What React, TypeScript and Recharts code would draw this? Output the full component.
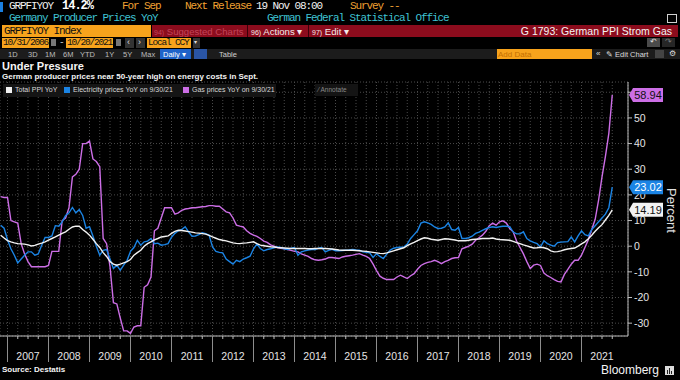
import React from 'react';
import { LineChart, Line, XAxis, YAxis, CartesianGrid, ReferenceLine } from 'recharts';

// Monthly observations, first one = end of October 2006, last = end of September 2021
const START_YEAR = 2006;
const START_MONTH = 10;

const totalPpi = [
  4.3, 3.2, 2.2, 1.7, 1.3, 1.0, 0.9, 0.8, 0.5, 0.1,
  0.3, 0.8, 1.2, 1.7, 2.4, 3.0, 3.6, 4.3, 5.0, 5.6,
  6.6, 7.5, 7.8, 7.8, 6.5, 5.5, 4.3, 2.7, 1.0, -0.5,
  -2.5, -4.0, -6.0, -7.0, -7.4, -7.0, -6.5, -6.0, -5.2, -3.5,
  -2.5, -1.6, 0.0, 1.0, 1.7, 2.5, 3.0, 3.6, 3.8, 4.0,
  5.0, 5.8, 6.2, 6.1, 5.9, 5.7, 5.5, 5.2, 5.1, 4.9,
  4.7, 4.2, 3.6, 3.1, 2.6, 2.3, 2.1, 1.7, 1.3, 1.1,
  1.0, 1.2, 1.3, 1.5, 1.7, 1.0, 0.4, 0.2, 0.0, -0.2,
  -0.3, -0.5, -0.6, -0.7, -0.8, -0.9, -0.9, -0.9, -0.9, -0.9,
  -1.0, -1.0, -0.9, -0.9, -0.9, -0.9, -1.0, -1.1, -1.3, -1.5,
  -1.6, -1.6, -1.6, -1.6, -1.7, -1.8, -1.9, -2.0, -2.2, -2.4,
  -2.6, -2.8, -2.9, -2.6, -2.2, -1.8, -1.4, -1.0, -0.6, 0.2,
  0.9, 1.5, 2.2, 2.8, 3.3, 3.1, 2.7, 2.5, 2.3, 2.6,
  2.9, 2.8, 2.6, 2.4, 2.1, 2.1, 2.1, 2.3, 2.6, 2.7,
  2.8, 3.0, 3.0, 3.0, 3.2, 2.8, 2.6, 2.5, 2.4, 2.3,
  1.9, 1.4, 1.0, 0.5, 0.1, -0.3, -0.7, -0.6, -0.4, -0.6,
  -1.0, -1.8, -2.2, -2.1, -1.8, -1.4, -1.1, -0.9, -0.7, 0.0,
  0.9, 1.7, 2.9, 4.3, 5.8, 7.2, 8.4, 10.2, 12.0, 14.19,
];

const electricity = [
  8.2, 7, 2.5, -1, -3.5, -6.5, -5, -3.5, -2.2, -2.2,
  -3.5, -3, 0.4, 3.4, 3.4, 4, 8, 7.8, 9.5, 12,
  13, 15.1, 13, 14.3, 12, 7, 7.6, 4, 0, -3.5,
  -1.6, -1.3, -5, -8.7, -7.4, -9.4, -7.4, -5.5, -2, -0.5,
  2.3, 0.4, 1.7, 2, 3, 1, 1.2, 0.4, 0.6, 1,
  3.5, 5, 6, 6.5, 7.6, 5.6, 3.9, 4, 4.5, 5.2,
  4.9, 4.3, -0.3, -2, -2.4, -2.6, -5, -6, -7, -5.5,
  -6, -5, -4.5, -3.9, -1, 0.8, -0.9, -1.8, -1.3, -1,
  -0.6, -0.3, -0.5, -1, -1.3, -0.8, -0.5, -3.5, -2.2, -1.8,
  -1.5, -1.3, -1.3, -0.8, -0.5, -2.2, -1.6, -1.2, -1.8, -1.8,
  -1.7, -1.6, -1.5, -1.3, -1.5, -1.6, -2.2, -2.4, -2.6, -4.4,
  -2.9, -4, -4.8, -3.1, -1.5, -0.8, -0.5, -0.4, -0.3, 0.8,
  3, 4.5, 6, 9, 9.5, 9.1, 8.5, 7.5, 6.9, 7,
  7.5, 9.1, 6.5, 6.2, 7.3, 3, 3, 3.3, 3.9, 5,
  5.5, 6.2, 6.8, 7.3, 7.6, 7.3, 7.6, 7.8, 7.8, 7.6,
  5.5, 4.8, 4.8, 5.6, 3, 2.1, 1.5, 1, -0.3, 2.1,
  1, 0.4, 0, 1.4, 1.6, 1.7, 1.8, 3.6, 1.7, 4,
  6, 4.5, 4, 6.5, 8, 9.5, 11, 12.5, 15, 23.02,
];

const gas = [
  19.3, 19, 19, 10, 9.5, 9, 1, -3, -6, -8,
  -8, -8, -8, -8, -7.5, -2, -2, -2, 10, 11,
  15, 27, 28, 30, 40, 40, 41, 34, 33, 31,
  3, 1, -8, -22, -22.5, -28, -33, -33, -34, -31.5,
  -31, -31, -16, -15, -12, 6, 7, 11, 15, 15,
  15, 12.5, 13, 14, 14.5, 14.7, 15, 15, 15.2, 15.4,
  15.5, 15.8, 15.8, 15.6, 15.6, 14.5, 13.4, 13, 11, 8.2,
  7.8, 7.5, 6, 5, 4.3, 3.8, 3, 2, 1.5, 0.5,
  0, -0.5, -0.8, -1, -1.3, -1.6, -2, -2.2, -3, -3.5,
  -4, -4.8, -5.3, -5.5, -5.3, -5, -4.4, -4.4, -4.6, -4.8,
  -4.2, -3.9, -3.7, -3.5, -3.2, -2.9, -3.5, -4, -4.8, -7,
  -9.5, -11.7, -12.5, -13, -13, -13, -12, -11.3, -12, -12.6,
  -11.5, -10.7, -9, -7.5, -6.8, -6.3, -6, -5.5, -6, -6.8,
  -6, -5.5, -4.8, -4.5, -4.4, -1, -0.5, 0, 0.8, 2.3,
  3.3, 4.3, 5.8, 8, 9, 8.2, 9.5, 9.9, 9, 6.9,
  5.6, 2, -0.5, -3, -6, -8.7, -7.4, -7, -7.5, -10.5,
  -11.5, -12.2, -13, -13.7, -13.9, -11, -9, -7, -5.5, -5.5,
  -3.5, -0.5, 2.5, 6.5, 10.5, 18, 27, 35, 44, 58.94,
];

const years = [2007, 2008, 2009, 2010, 2011, 2012, 2013, 2014, 2015, 2016, 2017, 2018, 2019, 2020, 2021];
const yTicks = [-30, -20, -10, 0, 10, 20, 30, 40, 50, 60];
const hiddenTickLabels = [60]; // covered by the last-value tag in the original
const lastTotal = 14.19;
const lastElectricity = 23.02;
const lastGas = 58.94;

const X_DOMAIN: [number, number] = [2006.817, 2022.134];
const Y_DOMAIN: [number, number] = [-35, 64];
const MARGIN = { top: 82, right: 0, bottom: 0, left: 0 };

const C_TOTAL = '#f2f2f2';
const C_ELEC = '#1b84e4';
const C_GAS = '#cc6ee6';
const SANS = '"Liberation Sans", Arial, sans-serif';

const data = totalPpi.map((v, i) => ({
  t: START_YEAR + (START_MONTH + i) / 12,
  total: v,
  elec: electricity[i],
  gas: gas[i],
}));

const quarterTicks: number[] = [];
years.forEach((y) => {
  [0, 0.25, 0.5, 0.75].forEach((q) => quarterTicks.push(y + q));
});

const XTick = (props: any) => {
  const { x, y, payload } = props;
  const v = payload.value as number;
  const frac = v - Math.floor(v);
  const isYear = Math.abs(frac) < 1e-6;
  const isMid = Math.abs(frac - 0.5) < 1e-6;
  return (
    <g>
      <line x1={x} x2={x} y1={y} y2={y + (isYear ? 26 : 3)} stroke={isYear ? '#8d8d8d' : '#bdbdbd'} strokeWidth={1} />
      {isMid && (
        <text x={x} y={y + 24} textAnchor="middle" fill="#e4e4e4" fontSize={10.5} fontFamily={SANS}>
          {Math.floor(v)}
        </text>
      )}
    </g>
  );
};

const ValueTag = ({ viewBox, value, fill, color }: any) => {
  if (!viewBox) return null;
  const x = viewBox.x + viewBox.width + 1;
  const y = viewBox.y;
  const w = 34;
  const h = 7;
  return (
    <g>
      <path d={`M${x},${y} L${x + 4},${y - h} L${x + w},${y - h} L${x + w},${y + h} L${x + 4},${y + h} Z`} fill={fill} />
      <text x={x + 4 + (w - 4) / 2} y={y + 4} textAnchor="middle" fill={color} fontSize={11} fontFamily={SANS}>
        {value.toFixed(2)}
      </text>
    </g>
  );
};

const mono: React.CSSProperties = {
  position: 'absolute',
  fontFamily: '"Liberation Mono", "DejaVu Sans Mono", monospace',
  fontSize: 11,
  letterSpacing: -1.1,
  lineHeight: '11px',
  whiteSpace: 'pre',
};
const small: React.CSSProperties = { ...mono, fontSize: 9.5, letterSpacing: -1.2, lineHeight: '10px' };
const sans: React.CSSProperties = {
  position: 'absolute',
  fontFamily: SANS,
  whiteSpace: 'pre',
};
const box = (left: number, top: number, width: number, height: number, bg: string): React.CSSProperties => ({
  position: 'absolute', left, top, width, height, background: bg,
});

const ORANGE_TXT = '#f0a032';
const CYAN = '#3fc3d3';
const ORANGE_BOX = '#f7a31c';
const RED_BAR = '#8c0c1d';

const RedItem = ({ left, num, label, color }: { left: number; num: string; label: string; color: string }) => (
  <div style={{ ...sans, left, top: 25.5, fontSize: 9.6, lineHeight: '11px', color }}>
    <span style={{ fontSize: 7 }}>{num}</span> {label}
  </div>
);

export default function App() {
  return (
    <div style={{ position: 'fixed', left: 0, top: 0, width: 680, height: 380, background: '#000', overflow: 'hidden' }}>
      <div style={{ position: 'absolute', left: 0, top: 0 }}>
        <LineChart width={680} height={380} data={data} margin={MARGIN}>
          <CartesianGrid stroke="#4a4a4a" strokeDasharray="1 2" />
          <XAxis
            dataKey="t"
            type="number"
            domain={X_DOMAIN}
            ticks={quarterTicks}
            allowDataOverflow
            height={44}
            tickSize={0}
            tickMargin={0}
            tickLine={false}
            axisLine={{ stroke: '#bdbdbd' }}
            tick={<XTick />}
            interval={0}
          />
          <YAxis
            orientation="right"
            type="number"
            domain={Y_DOMAIN}
            ticks={yTicks}
            allowDataOverflow
            width={52}
            tickSize={4}
            tickMargin={2}
            axisLine={{ stroke: '#bdbdbd' }}
            tickLine={{ stroke: '#bdbdbd' }}
            tick={{ fill: '#e4e4e4', fontSize: 10.5, fontFamily: SANS }}
            tickFormatter={(v: number) => (hiddenTickLabels.includes(v) ? '' : String(v))}
            interval={0}
          />
          <Line type="linear" dataKey="gas" stroke={C_GAS} strokeWidth={1.4} dot={false} isAnimationActive={false} />
          <Line type="linear" dataKey="elec" stroke={C_ELEC} strokeWidth={1.4} dot={false} isAnimationActive={false} />
          <Line type="linear" dataKey="total" stroke={C_TOTAL} strokeWidth={1.4} dot={false} isAnimationActive={false} />
        </LineChart>
      </div>

      {/* Overlay chart with the same scales, holding the last-value tags above the axis labels */}
      <div style={{ position: 'absolute', left: 0, top: 0, pointerEvents: 'none' }}>
        <LineChart width={680} height={380} data={data} margin={MARGIN}>
          <XAxis dataKey="t" type="number" domain={X_DOMAIN} allowDataOverflow height={44} tick={false} tickLine={false} axisLine={false} />
          <YAxis orientation="right" type="number" domain={Y_DOMAIN} allowDataOverflow width={52} tick={false} tickLine={false} axisLine={false} />
          <ReferenceLine y={lastGas} stroke="none" label={{ content: (p: any) => <ValueTag viewBox={p.viewBox} value={lastGas} fill={C_GAS} color="#111" /> }} />
          <ReferenceLine y={lastElectricity} stroke="none" label={{ content: (p: any) => <ValueTag viewBox={p.viewBox} value={lastElectricity} fill={C_ELEC} color="#fff" /> }} />
          <ReferenceLine y={lastTotal} stroke="none" label={{ content: (p: any) => <ValueTag viewBox={p.viewBox} value={lastTotal} fill={C_TOTAL} color="#111" /> }} />
        </LineChart>
      </div>

      {/* Row 1 */}
      <div style={box(0, 2, 3, 10, '#1a7fe0')} />
      <div style={{ ...mono, left: 9, top: 1, color: '#f2f2f2' }}>GRPFIYOY</div>
      <div style={{ ...mono, left: 62, top: 1, color: '#ffffff', fontWeight: 'bold', fontSize: 12, letterSpacing: -1 }}>14.2%</div>
      <div style={{ ...mono, left: 122, top: 1, color: ORANGE_TXT }}>For Sep</div>
      <div style={{ ...mono, left: 185, top: 1, color: ORANGE_TXT }}>Next Release</div>
      <div style={{ ...mono, left: 256, top: 1, color: '#f2f2f2' }}>19 Nov 08:00</div>
      <div style={{ ...mono, left: 350, top: 1, color: ORANGE_TXT }}>Survey --</div>

      {/* Row 2 */}
      <div style={{ ...mono, left: 9, top: 13, color: CYAN }}>Germany Producer Prices YoY</div>
      <div style={{ ...mono, left: 267, top: 13, color: CYAN }}>German Federal Statistical Office</div>
      <div style={{ ...box(667, 14, 8, 7, 'transparent'), border: '1px solid #cfcfcf' }} />

      {/* Row 3 */}
      <div style={box(2, 25, 149, 12, ORANGE_BOX)} />
      <div style={{ ...mono, left: 4, top: 26, color: '#111' }}>GRPFIYOY Index</div>
      <div style={box(152, 25, 526, 12, RED_BAR)} />
      <div style={box(247, 25, 1, 12, '#3a0008')} />
      <div style={box(308, 25, 1, 12, '#3a0008')} />
      <RedItem left={154} num="94)" label="Suggested Charts" color="#c2455a" />
      <RedItem left={251} num="96)" label="Actions ▾" color="#f4e8ea" />
      <RedItem left={312} num="97)" label="Edit ▾" color="#f4e8ea" />
      <div style={{ ...sans, right: 8, top: 25.5, fontSize: 10.5, lineHeight: '11px', color: '#f4f4f4' }}>G 1793: German PPI Strom Gas</div>

      {/* Row 4 */}
      <div style={box(2, 38, 47, 10, ORANGE_BOX)} />
      <div style={{ ...small, left: 3, top: 38, color: '#111' }}>10/31/2006</div>
      <div style={box(51, 39, 5, 7, '#777')} />
      <div style={{ ...small, left: 59, top: 38, color: '#ddd' }}>-</div>
      <div style={box(66, 38, 47, 10, ORANGE_BOX)} />
      <div style={{ ...small, left: 67, top: 38, color: '#111' }}>10/20/2021</div>
      <div style={box(116, 39, 5, 7, '#777')} />
      <div style={box(125, 38, 9, 10, '#333')} />
      <div style={{ ...sans, left: 127, top: 37, fontSize: 9, color: '#ddd' }}>‹</div>
      <div style={box(136, 38, 9, 10, '#333')} />
      <div style={{ ...sans, left: 138, top: 37, fontSize: 9, color: '#ddd' }}>›</div>
      <div style={box(147, 38, 44, 10, ORANGE_BOX)} />
      <div style={{ ...small, left: 148, top: 38, color: '#111' }}>Local CCY</div>
      <div style={box(193, 38, 7, 10, '#333')} />
      <div style={{ ...sans, left: 194, top: 38, fontSize: 6, color: '#ddd' }}>▾</div>
      <div style={box(647, 38, 13, 9, '#4a4a4a')} />
      <div style={{ ...sans, left: 650, top: 37, fontSize: 8, color: '#ddd' }}>↶</div>
      <div style={box(662, 38, 13, 9, '#262626')} />
      <div style={{ ...sans, left: 665, top: 37, fontSize: 8, color: '#777' }}>↷</div>

      {/* Row 5 */}
      <div style={box(0, 49, 680, 10, '#1c1c1c')} />
      {[['1D', 8], ['3D', 28], ['1M', 45], ['6M', 63], ['YTD', 80], ['1Y', 105], ['5Y', 123], ['Max', 141]].map(([t, l]) => (
        <div key={t as string} style={{ ...sans, left: l as number, top: 49.5, fontSize: 7.5, lineHeight: '9px', color: '#bdbdbd' }}>{t}</div>
      ))}
      <div style={box(160, 49, 31, 10, '#1f63c9')} />
      <div style={{ ...sans, left: 163, top: 49.5, fontSize: 7.5, lineHeight: '9px', color: '#fff' }}>Daily ▾</div>
      <div style={box(194, 49, 13, 10, '#2a55a5')} />
      <div style={{ ...sans, left: 219, top: 49.5, fontSize: 7.5, lineHeight: '9px', color: '#cfcfcf' }}>Table</div>
      <div style={box(497, 49, 95, 10, ORANGE_BOX)} />
      <div style={{ ...sans, left: 498, top: 49.5, fontSize: 8, lineHeight: '9px', color: '#c46f00' }}>Add Data</div>
      <div style={{ ...sans, left: 596, top: 48.5, fontSize: 8, lineHeight: '9px', color: '#ddd' }}>«</div>
      <div style={{ ...sans, left: 606, top: 49.5, fontSize: 7.5, lineHeight: '9px', color: '#ddd' }}>✎ Edit Chart</div>
      <div style={box(655, 50, 9, 8, '#444')} />
      <div style={{ ...sans, left: 669, top: 48.5, fontSize: 8, lineHeight: '9px', color: '#ddd' }}>⚙</div>

      {/* Titles */}
      <div style={{ ...sans, left: 2, top: 60, fontSize: 11, lineHeight: '12px', fontWeight: 'bold', color: '#f4f4f4' }}>Under Pressure</div>
      <div style={{ ...sans, left: 2, top: 72, fontSize: 8, lineHeight: '9px', fontWeight: 'bold', color: '#f4f4f4' }}>
        German producer prices near 50-year high on energy costs in Sept.
      </div>

      {/* Legend */}
      <div style={box(3, 84, 273, 13, '#151515')} />
      <div style={box(6, 87, 6, 6, C_TOTAL)} />
      <div style={{ ...sans, left: 15, top: 85, fontSize: 7, lineHeight: '10px', color: '#d8d8d8' }}>Total PPI YoY</div>
      <div style={box(64, 87, 6, 6, C_ELEC)} />
      <div style={{ ...sans, left: 73, top: 85, fontSize: 7, lineHeight: '10px', color: '#d8d8d8' }}>Electricity prices YoY on 9/30/21</div>
      <div style={box(183, 87, 6, 6, C_GAS)} />
      <div style={{ ...sans, left: 192, top: 85, fontSize: 7, lineHeight: '10px', color: '#d8d8d8' }}>Gas prices YoY on 9/30/21</div>
      <div style={box(315, 84, 43, 12, '#141414')} />
      <div style={{ ...sans, left: 318, top: 85, fontSize: 6.5, lineHeight: '10px', color: '#8a8a8a' }}>⁄ Annotate</div>

      {/* Axis title */}
      <div style={{ ...sans, left: 664, top: 188, fontSize: 13, lineHeight: '14px', color: '#e0e0e0', writingMode: 'vertical-rl' }}>Percent</div>

      {/* Footer */}
      <div style={{ ...sans, left: 2, top: 365, fontSize: 8, lineHeight: '10px', fontWeight: 'bold', color: '#f4f4f4' }}>Source: Destatis</div>
      <div style={{ ...sans, left: 601, top: 363, fontSize: 12, lineHeight: '14px', color: '#f4f4f4' }}>Bloomberg</div>
      <div style={box(665, 366, 9, 9, '#dcdcdc')} />
      <div style={box(667, 370, 1, 4, '#222')} />
      <div style={box(669, 368, 1, 6, '#222')} />
      <div style={box(671, 371, 1, 3, '#222')} />
    </div>
  );
}
